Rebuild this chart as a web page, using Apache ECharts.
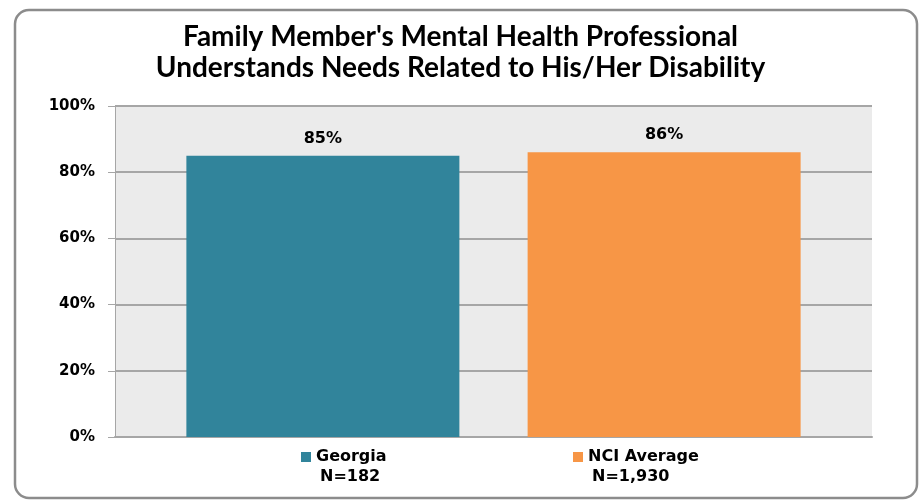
<!DOCTYPE html>
<html><head><meta charset="utf-8">
<script src="https://cdn.jsdelivr.net/npm/echarts@6/dist/echarts.min.js"></script>
<style>html,body{margin:0;padding:0;background:#fff}#c{width:921px;height:500px}</style>
</head><body><div id="c"></div>
<script>
const titleText = "Family Member's Mental Health Professional\nUnderstands Needs Related to His/Her Disability";
const categories = ["Georgia", "NCI Average"];
const sampleSizes = ["N=182", "N=1,930"];
const values = [85, 86];
const colors = ["#31849b", "#f79646"];
const yTicks = [0, 20, 40, 60, 80, 100];

const chart = echarts.init(document.getElementById('c'), null, {renderer: 'canvas'});
const seriesList = categories.map((name, i) => ({
  name: name,
  type: 'bar',
  barWidth: 273,
  barGap: '25%',
  data: [values[i]],
  itemStyle: {color: colors[i]},
  label: {show: true, position: 'top', distance: 9, formatter: p => p.value + '%',
    fontFamily: 'DejaVu Sans', fontWeight: 'bold', fontSize: 16, color: '#000'}
}));
chart.setOption({
  animation: false,
  title: {text: titleText, left: 'center', top: 16,
    textStyle: {fontFamily: 'Lato', fontWeight: 'bold', fontSize: 28, color: '#000', lineHeight: 31}},
  grid: {left: 115, right: 49, top: 106, bottom: 63, show: true, backgroundColor: '#ebebeb', borderWidth: 0},
  xAxis: {type: 'category', data: [''], axisTick: {show: false}, axisLabel: {show: false},
    axisLine: {lineStyle: {color: '#a6a6a6', width: 2}}},
  yAxis: {type: 'value', min: 0, max: 100, interval: 20,
    axisLabel: {formatter: v => v + '%', fontFamily: 'DejaVu Sans', fontWeight: 'bold', fontSize: 15, color: '#000', margin: 20},
    axisLine: {show: true, lineStyle: {color: '#a6a6a6', width: 1}},
    axisTick: {show: true, length: 7, lineStyle: {color: '#a6a6a6'}},
    splitLine: {lineStyle: {color: '#a6a6a6', width: 2}}},
  legend: [
    {data: [categories[0]], left: 296, top: 444, itemWidth: 10, itemHeight: 10, itemGap: 8, icon: 'rect',
      textStyle: {fontFamily: 'DejaVu Sans', fontWeight: 'bold', fontSize: 16, color: '#000'}},
    {data: [categories[1]], left: 568, top: 444, itemWidth: 10, itemHeight: 10, itemGap: 8, icon: 'rect',
      textStyle: {fontFamily: 'DejaVu Sans', fontWeight: 'bold', fontSize: 16, color: '#000'}}
  ],
  graphic: [
    {type: 'rect', shape: {x: 15, y: 10, width: 902, height: 488, r: 14}, style: {fill: 'none', stroke: '#8c8c8c', lineWidth: 2.5}, silent: true},
    {type: 'text', left: 320, top: 469, style: {text: sampleSizes[0], font: 'bold 16px "DejaVu Sans"', fill: '#000'}},
    {type: 'text', left: 592, top: 469, style: {text: sampleSizes[1], font: 'bold 16px "DejaVu Sans"', fill: '#000'}}
  ],
  series: seriesList
});
</script></body></html>
